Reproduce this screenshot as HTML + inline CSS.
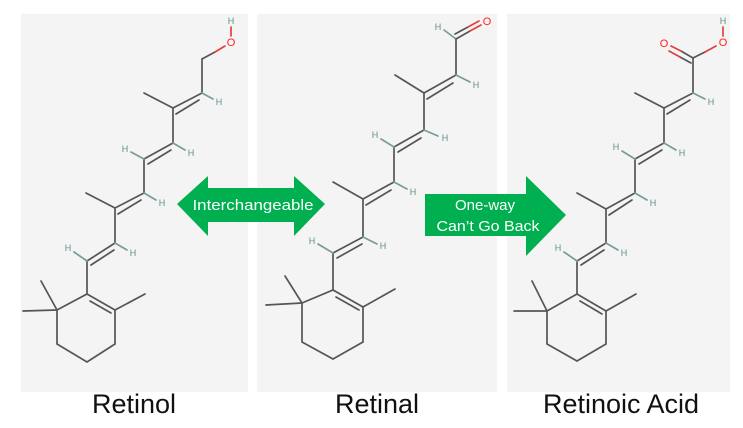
<!DOCTYPE html>
<html><head><meta charset="utf-8"><style>
html,body{margin:0;padding:0;background:#fff;}
svg{display:block;}
</style></head><body>
<svg width="743" height="428" viewBox="0 0 743 428" xmlns="http://www.w3.org/2000/svg" font-family="Liberation Sans, sans-serif">
<rect x="0" y="0" width="743" height="428" fill="#fff"/>
<rect x="21" y="14" width="227" height="378" fill="#f4f4f4"/>
<rect x="257" y="14" width="240" height="378" fill="#f4f4f4"/>
<rect x="507" y="14" width="223" height="378" fill="#f4f4f4"/>

<!-- Retinol -->
<g stroke="#555" stroke-width="1.7" fill="none" stroke-linecap="round">
<polyline points="57,310 87,294 115,310 115,344 87,362 57,344 57,310"/>
<line x1="90" y1="301" x2="111" y2="313"/>
<line x1="57" y1="310" x2="41" y2="281"/><line x1="57" y1="310" x2="23" y2="311"/>
<line x1="115" y1="310" x2="145" y2="294"/>
<polyline points="87,294 87,261 115,243 115,208 144,193 144,159 173,143 173,108 202,93 202,59"/>
<line x1="91" y1="265" x2="114" y2="250"/>
<line x1="118" y1="214" x2="141" y2="200"/>
<line x1="148" y1="164" x2="171" y2="150"/>
<line x1="176" y1="114" x2="199" y2="100"/>
<line x1="115" y1="208" x2="86" y2="193"/><line x1="173" y1="108" x2="144" y2="93"/>
<line x1="87" y1="261" x2="74" y2="252" stroke="#7a9a9a"/><line x1="115" y1="243" x2="127" y2="250" stroke="#7a9a9a"/>
<line x1="144" y1="193" x2="156" y2="200" stroke="#7a9a9a"/><line x1="144" y1="159" x2="131" y2="152" stroke="#7a9a9a"/>
<line x1="173" y1="143" x2="185" y2="150" stroke="#7a9a9a"/><line x1="202" y1="93" x2="213" y2="99" stroke="#7a9a9a"/>
<line x1="202" y1="59" x2="215" y2="52"/><line x1="215" y1="52" x2="225" y2="46" stroke="#e04040"/>
<line x1="231" y1="36" x2="231" y2="27" stroke="#e04040"/>
</g>
<g font-size="9" fill="#5f8f8f" text-anchor="middle">
<text x="68" y="251">H</text><text x="133" y="256">H</text><text x="162" y="206">H</text><text x="125" y="152">H</text><text x="191" y="156">H</text><text x="219" y="105">H</text><text x="231" y="24">H</text>
</g>
<text x="231" y="46" font-size="11" fill="#ff2020" text-anchor="middle">O</text>

<!-- Retinal -->
<g stroke="#555" stroke-width="1.7" fill="none" stroke-linecap="round">
<polyline points="302,303 333,290 363,307 363,342 333,359 302,342 302,303"/>
<line x1="336" y1="297" x2="359" y2="310"/>
<line x1="302" y1="303" x2="285" y2="276"/><line x1="302" y1="303" x2="266" y2="305"/>
<line x1="363" y1="307" x2="395" y2="289"/>
<polyline points="333,290 333,253 363,237 363,199 394,182 394,147 424,130 424,93 456,75 456,39"/>
<line x1="337" y1="258" x2="362" y2="244"/>
<line x1="366" y1="205" x2="391" y2="190"/>
<line x1="398" y1="152" x2="421" y2="138"/>
<line x1="427" y1="99" x2="453" y2="83"/>
<line x1="363" y1="199" x2="333" y2="182"/><line x1="424" y1="93" x2="395" y2="75"/>
<line x1="333" y1="253" x2="318" y2="244" stroke="#7a9a9a"/><line x1="363" y1="237" x2="377" y2="244" stroke="#7a9a9a"/>
<line x1="394" y1="182" x2="407" y2="189" stroke="#7a9a9a"/><line x1="394" y1="147" x2="381" y2="139" stroke="#7a9a9a"/>
<line x1="424" y1="130" x2="438" y2="136" stroke="#7a9a9a"/><line x1="456" y1="75" x2="470" y2="82" stroke="#7a9a9a"/>
<line x1="456" y1="39" x2="444" y2="30" stroke="#7a9a9a"/>
<line x1="456" y1="39" x2="470" y2="31"/><line x1="470" y1="31" x2="481" y2="25" stroke="#e04040"/>
<line x1="455" y1="34" x2="468" y2="27"/><line x1="468" y1="27" x2="479" y2="21" stroke="#e04040"/>
</g>
<g font-size="9" fill="#5f8f8f" text-anchor="middle">
<text x="312" y="244">H</text><text x="383" y="249">H</text><text x="413" y="195">H</text><text x="375" y="138">H</text><text x="445" y="141">H</text><text x="476" y="88">H</text><text x="438" y="30">H</text>
</g>
<text x="487" y="25" font-size="11" fill="#ff2020" text-anchor="middle">O</text>

<!-- Retinoic acid -->
<g stroke="#555" stroke-width="1.7" fill="none" stroke-linecap="round">
<polyline points="547,311 577,294 606,311 606,344 577,361 547,344 547,311"/>
<line x1="580" y1="301" x2="602" y2="314"/>
<line x1="547" y1="311" x2="532" y2="281"/><line x1="547" y1="311" x2="514" y2="311"/>
<line x1="606" y1="311" x2="636" y2="294"/>
<polyline points="577,294 577,261 606,243 606,209 635,193 635,159 664,143 664,108 693,93 693,58"/>
<line x1="581" y1="265" x2="604" y2="250"/>
<line x1="609" y1="215" x2="632" y2="200"/>
<line x1="639" y1="164" x2="662" y2="150"/>
<line x1="667" y1="114" x2="690" y2="100"/>
<line x1="606" y1="209" x2="577" y2="193"/><line x1="664" y1="108" x2="635" y2="93"/>
<line x1="577" y1="261" x2="564" y2="252" stroke="#7a9a9a"/><line x1="606" y1="243" x2="618" y2="250" stroke="#7a9a9a"/>
<line x1="635" y1="193" x2="647" y2="200" stroke="#7a9a9a"/><line x1="635" y1="159" x2="622" y2="151" stroke="#7a9a9a"/>
<line x1="664" y1="143" x2="676" y2="150" stroke="#7a9a9a"/><line x1="693" y1="93" x2="705" y2="99" stroke="#7a9a9a"/>
<line x1="693" y1="58" x2="705" y2="52"/><line x1="705" y1="52" x2="716" y2="46" stroke="#e04040"/>
<line x1="693" y1="58" x2="681" y2="51"/><line x1="681" y1="51" x2="671" y2="46" stroke="#e04040"/>
<line x1="691" y1="63" x2="680" y2="57"/><line x1="680" y1="57" x2="669" y2="51" stroke="#e04040"/>
<line x1="723" y1="36" x2="723" y2="27" stroke="#e04040"/>
</g>
<g font-size="9" fill="#5f8f8f" text-anchor="middle">
<text x="558" y="251">H</text><text x="624" y="256">H</text><text x="653" y="206">H</text><text x="616" y="150">H</text><text x="682" y="156">H</text><text x="711" y="105">H</text><text x="723" y="24">H</text>
</g>
<text x="664" y="47" font-size="11" fill="#ff2020" text-anchor="middle">O</text>
<text x="723" y="46" font-size="11" fill="#ff2020" text-anchor="middle">O</text>

<!-- Arrows -->
<polygon points="177,204 208,176 208,188 294,188 294,176 325,204 294,236 294,222 208,222 208,236" fill="#00b050"/>
<text x="253" y="210" font-size="15" fill="#fff" text-anchor="middle" textLength="121" lengthAdjust="spacingAndGlyphs">Interchangeable</text>
<polygon points="425,194 526,194 526,176 566,215 526,256 526,236 425,236" fill="#00b050"/>
<text x="485" y="210" font-size="15" fill="#fff" text-anchor="middle">One-way</text>
<text x="488" y="231" font-size="15" fill="#fff" text-anchor="middle" textLength="103" lengthAdjust="spacingAndGlyphs">Can’t Go Back</text>

<!-- Labels -->
<text x="134" y="413" font-size="27" fill="#111" text-anchor="middle">Retinol</text>
<text x="377" y="413" font-size="27" fill="#111" text-anchor="middle">Retinal</text>
<text x="621" y="413" font-size="27" fill="#111" text-anchor="middle">Retinoic Acid</text>
</svg>
</body></html>
